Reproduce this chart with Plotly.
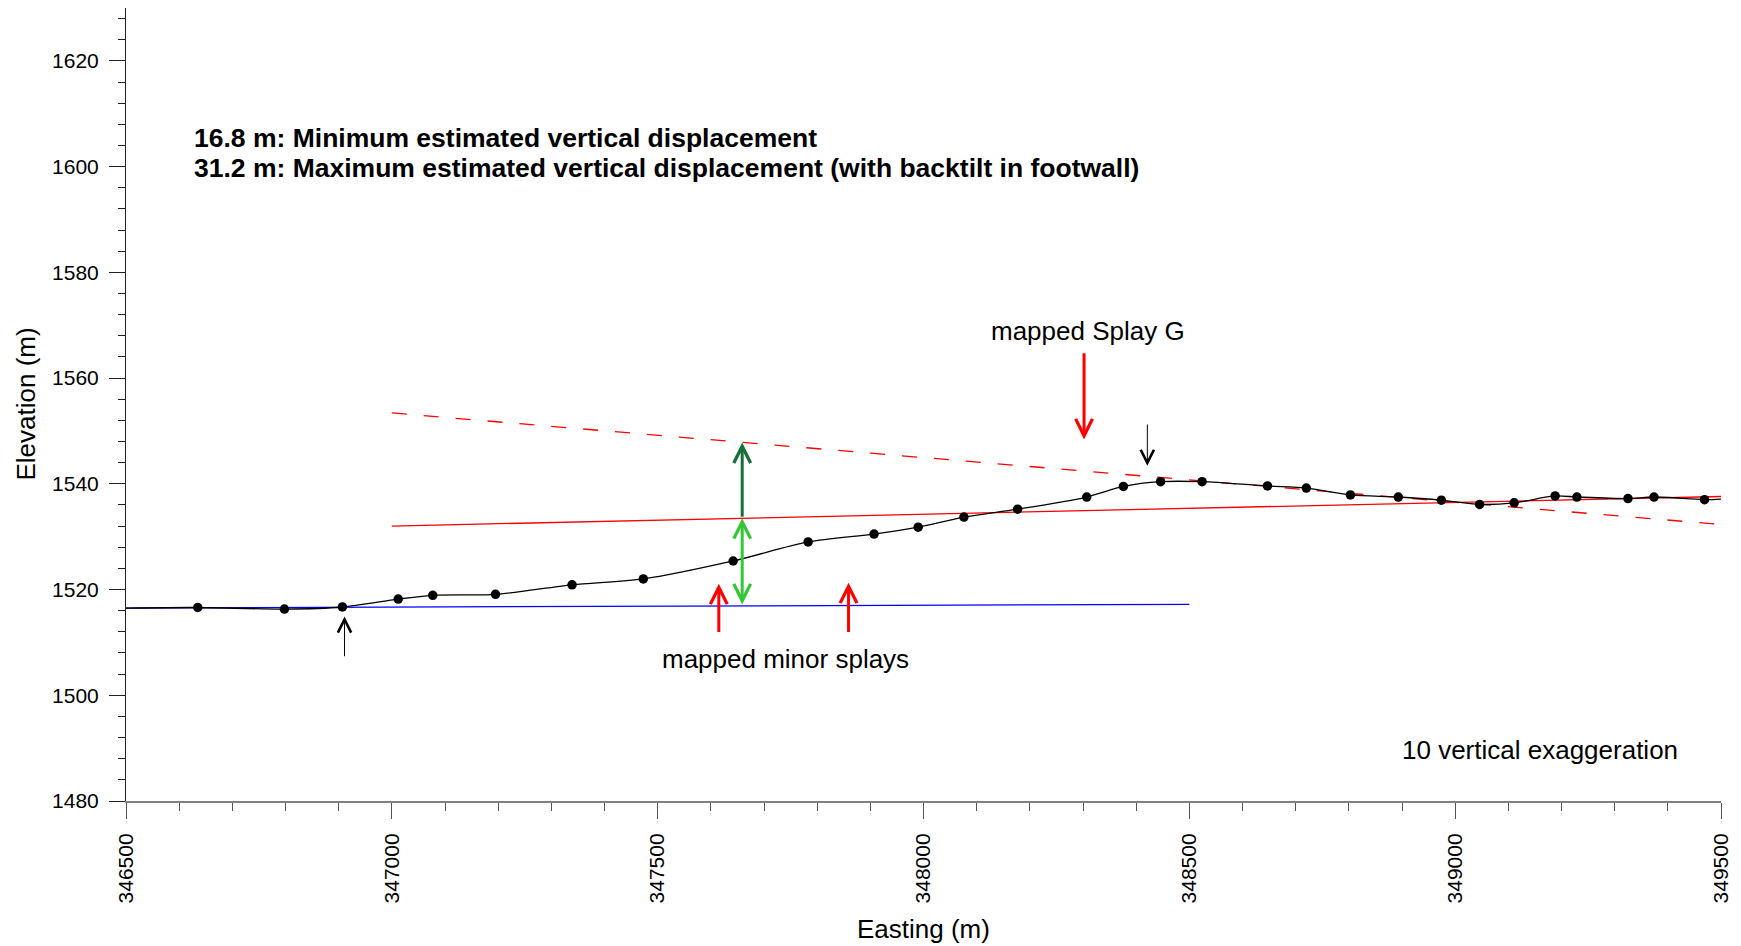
import plotly.graph_objects as go

# ---------------- data ----------------
profile_easting = [346500, 346635, 346798, 346907, 347012, 347077, 347195, 347339, 347473,
                   347642, 347783, 347907, 347990, 348076, 348177, 348307, 348376, 348446,
                   348524, 348647, 348720, 348803, 348893, 348974, 349046, 349111, 349188,
                   349229, 349325, 349374, 349469, 349500]
profile_elev = [1516.5, 1516.6, 1516.3, 1516.7, 1518.2, 1518.9, 1519.1, 1520.9, 1522.0,
                1525.4, 1529.0, 1530.5, 1531.8, 1533.7, 1535.2, 1537.5, 1539.5, 1540.4,
                1540.4, 1539.6, 1539.2, 1537.9, 1537.5, 1536.9, 1536.1, 1536.4, 1537.7,
                1537.5, 1537.2, 1537.5, 1537.0, 1537.1]
# sampled points (dots) = all profile vertices except the two edge ends
sample_easting = profile_easting[1:-1]
sample_elev = profile_elev[1:-1]

hanging_easting = [346500, 348500]
hanging_elev = [1516.5, 1517.2]
footwall_easting = [347000, 349500]
footwall_elev = [1532.0, 1537.6]
backtilt_easting = [347000, 349500]
backtilt_elev = [1553.4, 1532.3]

# arrows: (x, head_y, tail_y)
minor_splay_arrows = [(347615, 1521.1, 1511.7), (347859, 1521.3, 1511.7)]
splay_g_arrow = (348302, 1548.4, 1565.0)
scarp_arrows = [(346911, 1514.9, 1507.1), (348421, 1543.4, 1551.5)]
disp_x = 347659
disp_hanging = 1516.9
disp_footwall = 1533.5
disp_backtilt = 1547.8

x_ticks = [346500, 347000, 347500, 348000, 348500, 349000, 349500]
y_ticks = [1480, 1500, 1520, 1540, 1560, 1580, 1600, 1620]

FONT = "Liberation Sans, Arial, sans-serif"

fig = go.Figure()
fig.add_trace(go.Scatter(x=hanging_easting, y=hanging_elev, mode="lines",
                         line=dict(color="#0000ff", width=1.3), hoverinfo="skip"))
fig.add_trace(go.Scatter(x=footwall_easting, y=footwall_elev, mode="lines",
                         line=dict(color="#ff0000", width=1.3), hoverinfo="skip"))
fig.add_trace(go.Scatter(x=backtilt_easting, y=backtilt_elev, mode="lines",
                         line=dict(color="#ff0000", width=1.3, dash="15px,17px"), hoverinfo="skip"))
fig.add_trace(go.Scatter(x=profile_easting, y=profile_elev, mode="lines",
                         line=dict(color="#000000", width=1.3, shape="spline", smoothing=0.8)))
fig.add_trace(go.Scatter(x=sample_easting, y=sample_elev, mode="markers",
                         marker=dict(color="#000000", size=9.5)))

anns = []

def arrow(x, y_head, y_tail, color, width, size, head=5, start=False):
    d = dict(x=x, y=y_head, ax=x, ay=y_tail, xref="x", yref="y", axref="x", ayref="y",
             text="", showarrow=True, arrowhead=head, arrowsize=size, arrowwidth=width,
             arrowcolor=color, standoff=0, startstandoff=0)
    if start:
        d.update(arrowside="end+start", startarrowhead=head, startarrowsize=size)
    anns.append(d)

for (x, yh, yt) in minor_splay_arrows:
    arrow(x, yh, yt, "#ff0000", 3, 1.1)
arrow(splay_g_arrow[0], splay_g_arrow[1], splay_g_arrow[2], "#ff0000", 3, 1.1)
for (x, yh, yt) in scarp_arrows:
    arrow(x, yh, yt, "#000000", 1, 2.6)
arrow(disp_x, disp_backtilt, disp_footwall, "#17703a", 3, 1.1)
arrow(disp_x, disp_footwall, disp_hanging, "#33c733", 3, 1.1, start=True)

txt = dict(font=dict(family=FONT, size=26, color="#000000"), showarrow=False)
bold = dict(font=dict(family=FONT, size=26.5, color="#000000"), showarrow=False)
anns.append(dict(x=346625, y=1605.5, xref="x", yref="y", xanchor="left", yanchor="middle",
                 text="<b>16.8 m: Minimum estimated vertical displacement</b>", **bold))
anns.append(dict(x=346625, y=1599.8, xref="x", yref="y", xanchor="left", yanchor="middle",
                 text="<b>31.2 m: Maximum estimated vertical displacement (with backtilt in footwall)</b>", **bold))
anns.append(dict(x=348309, y=1568.9, xref="x", yref="y", xanchor="center", yanchor="middle",
                 text="mapped Splay G", **txt))
anns.append(dict(x=347741, y=1506.9, xref="x", yref="y", xanchor="center", yanchor="middle",
                 text="mapped minor splays", **txt))
anns.append(dict(x=349423, y=1489.6, xref="x", yref="y", xanchor="right", yanchor="middle",
                 text="10 vertical exaggeration", **txt))
# axis titles
anns.append(dict(x=0.5, y=0, xref="paper", yref="paper", xanchor="center", yanchor="middle",
                 yshift=-128, text="Easting (m)", **txt))
anns.append(dict(x=0, y=0.5, xref="paper", yref="paper", xanchor="center", yanchor="middle",
                 xshift=-101, textangle=-90, text="Elevation (m)", **txt))

fig.update_layout(
    width=1741, height=946,
    margin=dict(l=126, r=20, t=8, b=145),
    paper_bgcolor="white", plot_bgcolor="white",
    showlegend=False,
    font=dict(family=FONT, size=21, color="#000000"),
    annotations=anns,
    xaxis=dict(range=[346500, 349500], tickmode="array", tickvals=x_ticks,
               tickformat="d", tickangle=-90, ticks="outside", ticklen=16, tickwidth=1,
               tickcolor="#555555", showline=True, linecolor="#808080", linewidth=2,
               showgrid=False, zeroline=False, ticklabelstandoff=6,
               minor=dict(dtick=100, tick0=346500, ticks="outside", ticklen=8,
                          tickcolor="#555555", showgrid=False),
               tickfont=dict(size=21)),
    yaxis=dict(range=[1480, 1630], tickmode="array", tickvals=y_ticks,
               ticks="outside", ticklen=16, tickwidth=1, tickcolor="#222222",
               showline=True, linecolor="#222222", linewidth=1,
               showgrid=False, zeroline=False, ticklabelstandoff=6,
               minor=dict(dtick=4, tick0=1480, ticks="outside", ticklen=7,
                          tickcolor="#222222", showgrid=False),
               tickfont=dict(size=21)),
)

fig.write_html("out.html",
               config={"displayModeBar": False},
               post_script="document.body.style.margin='0';"
                           "document.body.style.padding='0';"
                           "document.documentElement.style.overflow='hidden';")
